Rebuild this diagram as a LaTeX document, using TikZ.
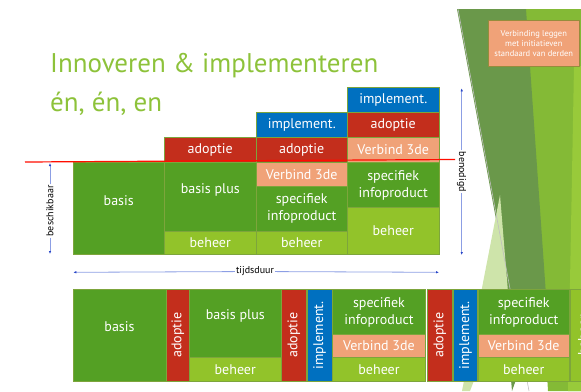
\documentclass[tikz,border=0pt]{standalone}
\usepackage{fontspec}
\setmainfont{PT Sans}
\usetikzlibrary{shapes, calc, arrows.meta, positioning}
\definecolor{basisGreen}{RGB}{84,160,36}
\definecolor{beheerGreen}{RGB}{146,195,42}
\definecolor{adoptieRed}{RGB}{195,46,28}
\definecolor{implBlue}{RGB}{0,112,192}
\definecolor{verbindOrange}{RGB}{240,162,120}
\definecolor{cellEdge}{RGB}{125,165,60}
\definecolor{noteEdge}{RGB}{150,140,60}
\definecolor{titleGreen}{RGB}{141,194,58}
\definecolor{arrowBlue}{RGB}{140,158,228}
\definecolor{tipBlue}{RGB}{40,70,200}
\definecolor{decoDark}{RGB}{106,152,74}
\definecolor{decoMid}{RGB}{132,186,54}
\definecolor{decoLight}{RGB}{152,202,58}
\definecolor{decoPale}{RGB}{206,228,170}
\tikzstyle{cell}=[draw=cellEdge, line width=0.8pt, text=white, inner sep=0pt, align=center, font=\fontsize{14}{17}\selectfont]
\tikzstyle{basisCell}=[cell, fill=basisGreen]
\tikzstyle{beheerCell}=[cell, fill=beheerGreen]
\tikzstyle{adoptieCell}=[cell, fill=adoptieRed]
\tikzstyle{implCell}=[cell, fill=implBlue]
\tikzstyle{verbindCell}=[cell, fill=verbindOrange]
\tikzstyle{colWide}=[minimum width=91.5pt]
\tikzstyle{measure}=[draw=arrowBlue, line width=0.8pt, -{Latex[length=3pt,width=2.5pt,color=tipBlue]}]
\tikzstyle{measureLabel}=[font=\fontsize{10}{12}\selectfont, inner sep=1pt]

\begin{document}
\begin{tikzpicture}[x=1pt, y=-1pt]
    \useasboundingbox (0,0) rectangle (581,391);
    \clip (0,0) rectangle (581,391);

    % slide decoration on the right
    \fill[decoMid] (525,9) -- (581,9) -- (581,391) -- (548,391) -- cycle;
    \fill[decoLight] (574,66) -- (581,66) -- (581,391) -- (568,391) -- cycle;
    \fill[decoDark] (457,9) -- (526,9) -- (546,295) -- (512,391) -- (498,230) -- cycle;
    \fill[decoPale] (500,195) -- (508,292) -- (470,391) -- (462,391) -- cycle;
    \draw[gray!50, line width=0.6pt] (458,9) -- (529,391);

    \node (verbindingNote)[draw=noteEdge, line width=0.8pt, fill=verbindOrange, text=white, align=center, minimum width=91pt, minimum height=46pt, inner sep=0pt, font=\fontsize{8.5}{10}\selectfont] at (533.8,43.7) {Verbinding leggen\\met initiatieven\\standaard van derden};

    \node (titleLine1)[anchor=base west, text=titleGreen, inner sep=0pt, font=\fontsize{27}{32}\selectfont] at (50,72.7) {Innoveren \& implementeren};
    \node (titleLine2)[anchor=base west, text=titleGreen, inner sep=0pt, font=\fontsize{27}{32}\selectfont] at (50,111.5) {én, én, en};

    % boven: wat beschikbaar is tegen wat nodig is
    \node (basis)[basisCell, colWide, anchor=base, text height=42.5pt, text depth=49.5pt] at (118.75,205) {basis};

    \node (adoptie2)[adoptieCell, colWide, minimum height=25pt] at (210.25,150) {adoptie};
    \node (basisPlus)[basisCell, colWide, anchor=base, text height=31pt, text depth=37.5pt] at (210.25,193.5) {basis plus};
    \node (beheer2)[beheerCell, colWide, minimum height=23.5pt] at (210.25,242.75) {beheer};

    \node (implement3)[implCell, colWide, minimum height=25.5pt] at (301.75,124.75) {implement.};
    \node (adoptie3)[adoptieCell, colWide, minimum height=25pt] at (301.75,150) {adoptie};
    \node (verbind3)[verbindCell, colWide, minimum height=23.5pt] at (301.75,174.25) {Verbind 3de};
    \node (specifiek3)[basisCell, colWide, minimum height=45pt] at (301.75,208.5) {specifiek\\infoproduct};
    \node (beheer3)[beheerCell, colWide, minimum height=23.5pt] at (301.75,242.75) {beheer};

    \node (implement4)[implCell, colWide, minimum height=25pt] at (393.25,99.5) {implement.};
    \node (adoptie4)[adoptieCell, colWide, minimum height=25.5pt] at (393.25,124.75) {adoptie};
    \node (verbind4)[verbindCell, colWide, minimum height=25pt] at (393.25,150) {Verbind 3de};
    \node (specifiek4)[basisCell, colWide, minimum height=45pt] at (393.25,185) {specifiek\\infoproduct};
    \node (beheer4)[beheerCell, colWide, minimum height=47pt] at (393.25,231) {beheer};

    \coordinate (demandLeft) at (25,162);
    \coordinate (demandRight) at (455,159.5);
    \draw[red!90!orange, line width=1.2pt] (demandLeft) -- (demandRight);

    % maatpijlen
    \coordinate (availTop) at (50,163);
    \coordinate (availBottom) at (50,254);
    \node (beschikbaar)[measureLabel, rotate=90] at (50,211) {beschikbaar};
    \draw[measure] (beschikbaar) -- (availTop);
    \draw[measure] (beschikbaar) -- (availBottom);

    \coordinate (needTop) at (461.7,88.3);
    \coordinate (needBottom) at (461.7,255);
    \node (benodigd)[measureLabel, rotate=-90] at (461.7,171.7) {benodigd};
    \draw[measure] (benodigd) -- (needTop);
    \draw[measure] (benodigd) -- (needBottom);

    \coordinate (timeLeft) at (73.3,272.3);
    \coordinate (timeRight) at (439,272.3);
    \node (tijdsduur)[measureLabel] at (255,271.5) {tijdsduur};
    \draw[measure] (tijdsduur) -- (timeLeft);
    \draw[measure] (tijdsduur) -- (timeRight);

    % onder: alles achter elkaar in de tijd
    \node (basisB)[basisCell, minimum width=93pt, anchor=base, text height=42pt, text depth=49.5pt] at (119.5,331.5) {basis};
    \node (adoptieB1)[adoptieCell, rotate=90, minimum width=91.5pt, minimum height=23.5pt] at (177.75,335.25) {adoptie};
    \node (basisPlusB)[basisCell, colWide, anchor=base, text height=30pt, text depth=38pt] at (235.25,319.5) {basis plus};
    \node (beheerB2)[beheerCell, colWide, minimum height=23.5pt] at (235.25,369.25) {beheer};
    \node (adoptieB2)[adoptieCell, rotate=90, minimum width=91.5pt, minimum height=25.5pt] at (293.75,335.25) {adoptie};
    \node (implementB1)[implCell, rotate=90, minimum width=91.5pt, minimum height=25pt] at (319.5,335.25) {implement.};
    \node (specifiekB1)[basisCell, minimum width=93pt, minimum height=45pt] at (379,312) {specifiek\\infoproduct};
    \node (verbindB1)[verbindCell, minimum width=93pt, minimum height=23pt] at (379,346) {Verbind 3de};
    \node (beheerB3)[beheerCell, minimum width=93pt, minimum height=23.5pt] at (379,369.25) {beheer};
    \node (adoptieB3)[adoptieCell, rotate=90, minimum width=91.5pt, minimum height=24.5pt] at (439.75,335.25) {adoptie};
    \node (implementB2)[implCell, rotate=90, minimum width=91.5pt, minimum height=24pt] at (465.5,335.25) {implement.};
    \node (specifiekB2)[basisCell, colWide, minimum height=45pt] at (523.75,312) {specifiek\\infoproduct};
    \node (verbindB2)[verbindCell, colWide, minimum height=23pt] at (523.75,346) {Verbind 3de};
    \node (beheerB4)[beheerCell, colWide, minimum height=23.5pt] at (523.75,369.25) {beheer};
    \node (beheerB5)[beheerCell, rotate=90, minimum width=91.5pt, minimum height=26pt] at (583,335.25) {beheer};
\end{tikzpicture}
\end{document}
